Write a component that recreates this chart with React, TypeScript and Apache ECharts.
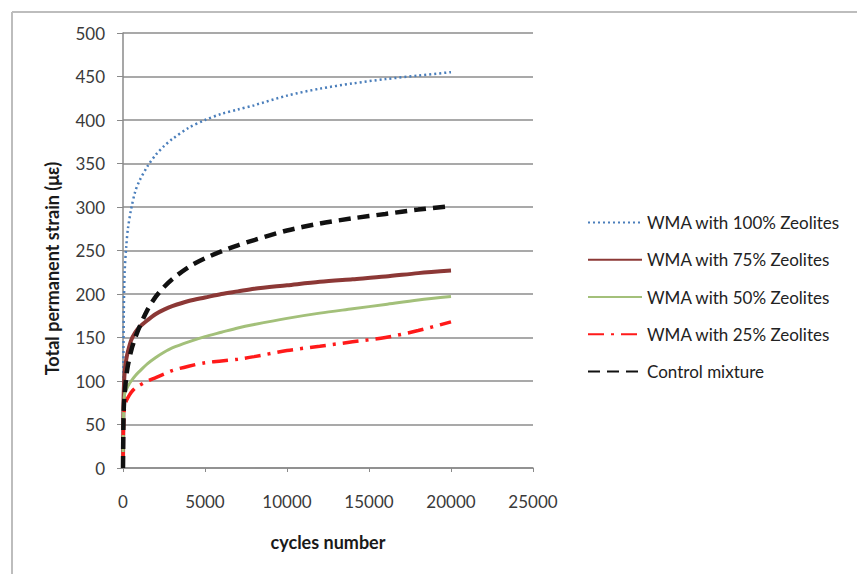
import React, { useEffect, useRef } from "react";
import * as echarts from "echarts";

const cycles = [0, 25, 50, 100, 200, 300, 500, 750, 1000, 1500, 2000, 2500, 3000, 4000, 5000, 6000, 7000, 8000, 10000, 12000, 14000, 16000, 18000, 20000];
const zeo100 = [0, 120, 180, 225, 255, 275, 298, 318, 330, 347, 360, 370, 378, 391, 400, 407, 412, 417, 428, 436, 442, 447, 451, 455];
const zeo75 = [0, 70, 90, 110, 125, 134, 147, 156, 162, 170, 177, 182, 186, 192, 196, 200, 203, 206, 210, 214, 217, 220, 224, 227];
const zeo50 = [0, 50, 70, 85, 90, 94, 100, 106, 111, 120, 127, 133, 138, 145, 151, 156, 161, 165, 172, 178, 183, 188, 193, 197];
const zeo25 = [0, 45, 60, 70, 77, 81, 87, 92, 95, 100, 104, 108, 112, 117, 121, 123, 125, 128, 135, 140, 145, 150, 158, 168];
const control = [0, 50, 70, 85, 105, 118, 135, 150, 162, 182, 197, 208, 217, 231, 241, 249, 256, 262, 273, 281, 287, 292, 297, 301];

const seriesNames = [
  "WMA with 100% Zeolites",
  "WMA with 75% Zeolites",
  "WMA with 50% Zeolites",
  "WMA with 25% Zeolites",
  "Control mixture",
];

const FONT = "Lato, 'Liberation Sans', sans-serif";

const pairs = (ys: number[]) => cycles.map((c, i) => [c, ys[i]]);

export default function App() {
  const ref = useRef<HTMLDivElement>(null);
  useEffect(() => {
    if (!ref.current) return;
    const chart = echarts.init(ref.current, undefined, { renderer: "svg" });
    const mk = (name: string, data: number[], color: string, width: number, type: any) => ({
      name,
      type: "line",
      data: pairs(data),
      showSymbol: false,
      symbol: "none",
      smooth: 0.3,
      lineStyle: { color, width, type },
      itemStyle: { color },
    });
    chart.setOption({
      animation: false,
      backgroundColor: "#ffffff",
      textStyle: { fontFamily: FONT },
      grid: { left: 123, top: 33, width: 410, height: 435, containLabel: false },
      xAxis: {
        type: "value",
        min: 0,
        max: 25000,
        interval: 5000,
        name: "cycles number",
        nameLocation: "middle",
        nameGap: 65,
        nameTextStyle: { fontFamily: FONT, fontSize: 18, fontWeight: "bold", color: "#1a1a1a" },
        axisLine: { show: true, lineStyle: { color: "#8a8a8a", width: 1.5 } },
        axisTick: { show: true, length: 4, lineStyle: { color: "#8a8a8a" } },
        axisLabel: {
          margin: 25,
          fontFamily: FONT,
          fontSize: 17,
          color: "#3a3a3a",
          formatter: (v: number) => String(v),
        },
        splitLine: { show: false },
      },
      yAxis: {
        type: "value",
        min: 0,
        max: 500,
        interval: 50,
        name: "Total permanent strain (με)",
        nameLocation: "middle",
        nameGap: 62,
        nameTextStyle: {
          fontFamily: FONT,
          fontSize: 18,
          fontWeight: "bold",
          color: "#1a1a1a",
          padding: [0, 36, 0, 0],
        },
        axisLine: { show: true, lineStyle: { color: "#8a8a8a", width: 1.5 } },
        axisTick: { show: true, length: 6, lineStyle: { color: "#8a8a8a" } },
        axisLabel: { margin: 18, fontFamily: FONT, fontSize: 17, color: "#3a3a3a" },
        splitLine: { show: true, lineStyle: { color: "#8c8c8c", width: 1.5 } },
      },
      legend: {
        orient: "vertical",
        left: 587,
        top: 214,
        padding: 0,
        itemWidth: 54,
        itemHeight: 14,
        itemGap: 20.25,
        itemStyle: { opacity: 0 },
        textStyle: { fontFamily: FONT, fontSize: 17, lineHeight: 14, color: "#222222" },
        data: seriesNames,
      },
      graphic: [
        { type: "line", shape: { x1: 12, y1: 12, x2: 857, y2: 12 }, style: { stroke: "#bdbdbd", lineWidth: 2 } },
        { type: "line", shape: { x1: 12, y1: 12, x2: 12, y2: 574 }, style: { stroke: "#bdbdbd", lineWidth: 2 } },
      ],
      series: [
        mk(seriesNames[0], zeo100, "#4a7ebb", 2.5, [2, 3]),
        mk(seriesNames[1], zeo75, "#8c3836", 4, "solid"),
        mk(seriesNames[2], zeo50, "#a3c07a", 3, "solid"),
        mk(seriesNames[3], zeo25, "#ff1a1a", 3.5, [16, 7, 3, 7]),
        mk(seriesNames[4], control, "#111111", 4.5, [12, 7]),
      ],
    });
    return () => chart.dispose();
  }, []);
  return (
    <div
      ref={ref}
      style={{ position: "fixed", left: 0, top: 0, width: 857, height: 574, background: "#fff" }}
    />
  );
}
